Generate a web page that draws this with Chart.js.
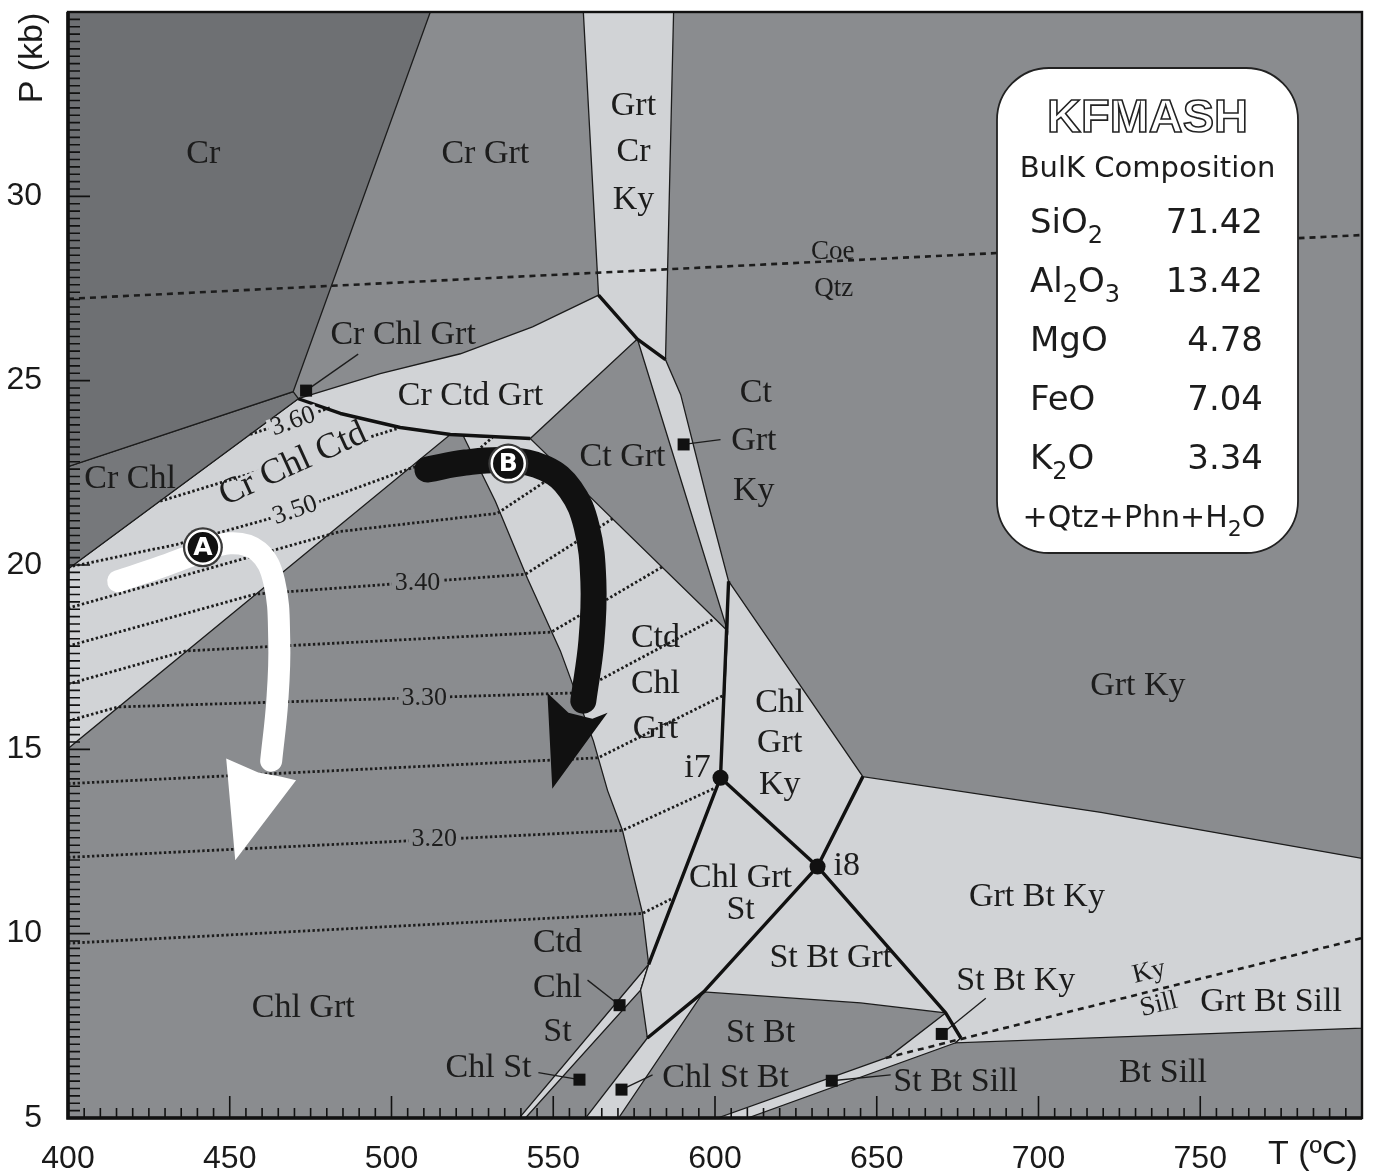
<!DOCTYPE html>
<html>
<head>
<meta charset="utf-8">
<script src="https://cdn.jsdelivr.net/npm/chart.js@4.4.1/dist/chart.umd.min.js"></script>
<style>
  body { margin: 0; background: #fff; }
</style>
</head>
<body>
<canvas id="chart" width="1377" height="1171"></canvas>
<script>
// axis ticks
const tempTicks = [400, 450, 500, 550, 600, 650, 700, 750, 800];
const pressTicks = [5, 10, 15, 20, 25, 30, 35];

// phase fields, [T (°C), P (kb)]
const fieldCr = [[400, 35], [512, 35], [469.6, 24.7], [400, 22.67]];
const fieldCrChl = [[469.6, 24.7], [400, 22.67], [400, 19.89], [471.2, 24.51]];
const fieldGrtCrKy = [[559.3, 35], [587.2, 35], [584.7, 25.57], [576, 26.13], [564, 27.32]];
const fieldCrCtdGrt = [[471.2, 24.51], [496.5, 25.19], [521.3, 25.73], [543.6, 26.46], [564, 27.32], [576, 26.13],
  [542.9, 23.43], [518.2, 23.54], [502.7, 23.73], [484.2, 24.11]];
const fieldCrChlCtd = [[471.2, 24.51], [484.2, 24.11], [502.7, 23.73], [518.2, 23.54], [400, 15.02], [400, 19.89]];
const fieldCtdChlGrt = [[522.2, 23.5], [542.9, 23.43], [603.9, 18.21], [601.7, 14.23], [579.5, 9.17], [577.6, 10.55],
  [571.4, 12.8], [566.8, 13.88], [562.4, 15.23], [552.2, 17.67], [542, 19.64], [532.1, 21.73]];
const fieldCtGrtKy = [[576, 26.13], [584.7, 25.57], [589.4, 24.62], [597.7, 21.73], [604.2, 19.56], [603.9, 18.21]];
const fieldChlGrtKy = [[604.2, 19.56], [645.7, 14.26], [631.7, 11.82], [601.7, 14.23]];
const fieldChlGrtSt = [[601.7, 14.23], [631.7, 11.82], [671.3, 7.85], [645, 8.12], [596.5, 8.42], [579.1, 7.17],
  [577, 8.47], [579.5, 9.17]];
const fieldGrtBtKy = [[631.7, 11.82], [645.7, 14.26], [719.3, 13.29], [800, 12.04], [800, 7.44], [674.4, 7.04],
  [676, 7.17], [671.3, 7.85]];
const fieldStBtSill = [[600.8, 5], [653.7, 6.66], [671.3, 7.85], [676, 7.17], [674.4, 7.04], [610.1, 5]];
const fieldChlStBt = [[579.1, 7.17], [596.5, 8.42], [570.2, 5], [560, 5]];
const fieldCtdChlSt = [[579.5, 9.17], [577, 8.47], [541.4, 5], [539.5, 5]];

// heavy reaction lines
const thickLines = [
  [[564, 27.32], [576, 26.13], [584.7, 25.57]],
  [[471.2, 24.51], [484.2, 24.11], [502.7, 23.73], [518.2, 23.54], [542.9, 23.43]],
  [[604.2, 19.56], [601.7, 14.23], [579.5, 9.17]],
  [[601.7, 14.23], [631.7, 11.82]],
  [[645.7, 14.26], [631.7, 11.82], [671.3, 7.85], [676, 7.17]],
  [[631.7, 11.82], [596.5, 8.42], [579.1, 7.17]]
];

// Si (p.f.u.) isopleths of phengite
const iso360 = [[456.3, 23.54], [481.1, 24.27]];
const iso355 = [[428.5, 21.73], [501.8, 23.7]];
const iso350 = [[400, 19.94], [433.7, 20.56], [461.6, 21.24], [478, 21.73], [506.7, 22.65], [524.4, 22.94], [531.2, 23.46]];
const iso345 = [[400, 18.83], [484.2, 20.91], [532.7, 21.4], [552.2, 22.54]];
const iso340 = [[400, 17.8], [457.9, 19.21], [541.4, 19.75], [568.6, 21.27]];
const iso335 = [[400, 16.77], [436.5, 17.67], [549.4, 18.18], [584.1, 19.97]];
const iso330 = [[400, 15.77], [415.5, 16.15], [556.9, 16.53], [599.6, 18.53]];
const iso325 = [[400, 14.07], [563.9, 14.77], [602.3, 16.45]];
const iso320 = [[400, 12.07], [571.4, 12.8], [600.2, 13.96]];
const iso315 = [[400, 9.74], [577.6, 10.55], [586.9, 10.96]];

// univariant dashed lines
const coeQtz = [[400, 27.22], [800, 28.95]];
const kySill = [[652.8, 6.63], [800, 9.88]];

// invariant points and small-field markers
const invariants = [[601.7, 14.23], [631.7, 11.82]];
const smallFields = [[473.6, 24.73], [590.3, 23.27], [570.5, 8.06], [558.1, 6.04], [571.1, 5.77], [636.1, 6.01], [670.1, 7.28]];
const leaderEnds = [[489.7, 25.72], [601.7, 23.4], [560.6, 8.74], [545.4, 6.23], [580.7, 6.17], [654.3, 6.17], [683.7, 8.25]];

// P-T paths
const pathA = [[415.5, 19.56], [428.5, 19.94], [439.3, 20.29], [450.1, 20.59], [458.8, 20.37], [463.7, 19.56],
  [465.3, 17.94], [464.7, 16.32], [462.8, 14.69]];
const headA = [[448.9, 14.75], [458.8, 14.37], [465.6, 14.26], [470.5, 14.16], [451.7, 11.99]];
const pathB = [[511.1, 22.59], [522.8, 22.78], [536.1, 22.84], [547.6, 22.62], [555.3, 22.05], [560.3, 21.05],
  [562.4, 19.56], [561.8, 17.94], [559.3, 16.32]];
const headB = [[548.2, 16.53], [554.7, 15.99], [562.1, 15.83], [566.8, 15.99], [549.7, 13.93]];
const pathLabels = [['A', 441.7, 20.48], ['B', 536.1, 22.75]];

// bulk composition (wt%)
const oxides = ['SiO2', 'Al2O3', 'MgO', 'FeO', 'K2O'];
const wtPercent = [71.42, 13.42, 4.78, 7.04, 3.34];

// field names [text, T, P]
const fieldNames = [
  ['Cr', 441.8, 31.14], ['Cr Grt', 529, 31.14],
  ['Grt', 574.8, 32.46], ['Cr', 574.8, 31.19], ['Ky', 574.8, 29.89],
  ['Cr Chl Grt', 503.6, 26.24], ['Cr Ctd Grt', 524.4, 24.57],
  ['Ct', 612.6, 24.65], ['Grt', 612, 23.35], ['Ky', 612, 22],
  ['Ct Grt', 571.4, 22.92], ['Cr Chl', 419.2, 22.32],
  ['Ctd', 581.6, 18.03], ['Chl', 581.6, 16.78], ['Grt', 581.6, 15.56],
  ['Chl', 620, 16.26], ['Grt', 620, 15.18], ['Ky', 620, 14.02],
  ['Grt Ky', 730.7, 16.72],
  ['Chl Grt', 607.9, 11.5], ['St', 607.9, 10.64],
  ['St Bt Grt', 635.8, 9.34], ['Grt Bt Ky', 699.5, 10.99],
  ['Ctd', 551.3, 9.74], ['Chl', 551.3, 8.52], ['St', 551.3, 7.33],
  ['Chl Grt', 472.7, 7.98], ['St Bt', 614.1, 7.31], ['St Bt Ky', 693, 8.71],
  ['Grt Bt Sill', 771.9, 8.15], ['Chl St', 530, 6.36], ['Chl St Bt', 603.3, 6.09],
  ['St Bt Sill', 674.4, 5.98], ['Bt Sill', 738.5, 6.23],
  ['i7', 594.6, 14.48], ['i8', 640.7, 11.83]
];
// [text, T, P, rotation]
const isoNames = [['3.60', 469.6, 23.89, -19], ['3.50', 470.2, 21.48, -19], ['3.40', 508, 19.5, 0],
  ['3.30', 510.1, 16.4, 0], ['3.20', 513.2, 12.55, 0]];
const smallNames = [['Coe', 636.4, 28.49, 0], ['Qtz', 636.7, 27.49, 0], ['Ky', 734.2, 8.96, -14], ['Sill', 737.2, 8.07, -14]];

const DARK = '#6e7073', DARK2 = '#76787b', MID = '#8a8c8f', LIGHT = '#d1d3d6', INK = '#1c1c1c';

const xy = a => a.map(([x, y]) => ({x, y}));
const closed = a => xy([...a, a[0]]);

const datasets = [];

[[fieldCr, DARK], [fieldCrChl, DARK2], [fieldGrtCrKy, LIGHT], [fieldCrCtdGrt, LIGHT], [fieldCrChlCtd, LIGHT],
 [fieldCtdChlGrt, LIGHT], [fieldCtGrtKy, LIGHT], [fieldChlGrtKy, LIGHT], [fieldChlGrtSt, LIGHT],
 [fieldGrtBtKy, LIGHT], [fieldStBtSill, LIGHT], [fieldChlStBt, LIGHT], [fieldCtdChlSt, LIGHT]
].forEach(([f, c]) => datasets.push({
  data: closed(f), fill: 'shape', backgroundColor: c, borderColor: INK, borderWidth: 1.3,
  pointRadius: 0, tension: 0, order: 10
}));

[iso360, iso355, iso350, iso345, iso340, iso335, iso330, iso325, iso320, iso315].forEach(l => datasets.push({
  data: xy(l), borderColor: INK, borderWidth: 2.8, borderDash: [2.4, 2.4], pointRadius: 0, fill: false, order: 6
}));

[coeQtz, kySill].forEach(l => datasets.push({
  data: xy(l), borderColor: INK, borderWidth: 2.6, borderDash: [6, 5], pointRadius: 0, fill: false, order: 6
}));

smallFields.forEach((p, i) => datasets.push({
  data: xy([p, leaderEnds[i]]), borderColor: INK, borderWidth: 1.3, pointRadius: 0, fill: false, order: 5
}));

thickLines.forEach(l => datasets.push({
  data: xy(l), borderColor: '#111', borderWidth: 3.4, pointRadius: 0, fill: false, order: 4,
  borderJoinStyle: 'round'
}));

// P-T paths
datasets.push({data: xy(pathA), borderColor: '#fff', borderWidth: 22, tension: 0.4, borderCapStyle: 'round',
  pointRadius: 0, fill: false, order: 3});
datasets.push({data: closed(headA), fill: 'shape', backgroundColor: '#fff', borderWidth: 0, pointRadius: 0, order: 3});
datasets.push({data: xy(pathB), borderColor: '#111', borderWidth: 26, tension: 0.4, borderCapStyle: 'round',
  pointRadius: 0, fill: false, order: 3});
datasets.push({data: closed(headB), fill: 'shape', backgroundColor: '#111', borderWidth: 0, pointRadius: 0, order: 3});

datasets.push({data: xy(smallFields), showLine: false, pointStyle: 'rect', pointRadius: 8.5,
  pointBackgroundColor: '#111', pointBorderWidth: 0, order: 2});
datasets.push({data: xy(invariants), showLine: false, pointStyle: 'circle', pointRadius: 8,
  pointBackgroundColor: '#111', pointBorderWidth: 0, order: 2});
datasets.push({data: xy(pathLabels.map(p => [p[1], p[2]])), showLine: false, pointRadius: 20,
  pointBackgroundColor: '#3a3a3a', pointBorderWidth: 0, order: 1});
datasets.push({data: xy(pathLabels.map(p => [p[1], p[2]])), showLine: false, pointRadius: 16.5,
  pointBackgroundColor: '#111', pointBorderColor: '#fff', pointBorderWidth: 2.5, order: 0});

const areaFill = {
  id: 'areaFill',
  beforeDatasetsDraw(chart) {
    const {ctx, chartArea: a} = chart;
    ctx.save();
    ctx.fillStyle = MID;
    ctx.fillRect(a.left, a.top, a.right - a.left, a.bottom - a.top);
    ctx.restore();
  }
};

function chem(ctx, s, x, y, size, align) {
  const parts = s.match(/[0-9]+|[^0-9]+/g);
  const big = size + 'px "DejaVu Sans"', small = Math.round(size * 0.72) + 'px "DejaVu Sans"';
  let w = 0;
  parts.forEach(p => { ctx.font = /\d/.test(p) ? small : big; w += ctx.measureText(p).width; });
  let cx = align === 'center' ? x - w / 2 : x;
  ctx.textAlign = 'left';
  parts.forEach(p => {
    const sub = /\d/.test(p);
    ctx.font = sub ? small : big;
    ctx.fillText(p, cx, y + (sub ? size * 0.3 : 0));
    cx += ctx.measureText(p).width;
  });
}

const overlay = {
  id: 'overlay',
  afterDatasetsDraw(chart) {
    const {ctx, chartArea: a, scales: {x, y}} = chart;
    ctx.save();

    const label = (text, t, p, font, rot, bg) => {
      ctx.save();
      ctx.translate(x.getPixelForValue(t), y.getPixelForValue(p));
      ctx.rotate((rot || 0) * Math.PI / 180);
      ctx.font = font;
      ctx.textAlign = 'center';
      ctx.textBaseline = 'middle';
      if (bg) {
        const w = ctx.measureText(text).width;
        ctx.fillStyle = bg;
        ctx.fillRect(-w / 2 - 3, -10, w + 6, 20);
      }
      ctx.fillStyle = INK;
      ctx.fillText(text, 0, 0);
      ctx.restore();
    };

    fieldNames.forEach(([s, t, p]) => label(s, t, p, '34px "Liberation Serif"'));
    label('Cr Chl Ctd', 469.6, 22.73, '36px "Liberation Serif"', -24.5, LIGHT);
    isoNames.forEach(([s, t, p, r]) => label(s, t, p, '26px "Liberation Serif"', r, r ? LIGHT : MID));
    smallNames.forEach(([s, t, p, r]) => label(s, t, p, '27px "Liberation Serif"', r));

    // path letters
    pathLabels.forEach(([s, t, p]) => {
      ctx.font = 'bold 25px "DejaVu Sans"';
      ctx.textAlign = 'center';
      ctx.textBaseline = 'middle';
      ctx.fillStyle = '#fff';
      ctx.fillText(s, x.getPixelForValue(t), y.getPixelForValue(p) + 1);
    });

    // inward ticks
    ctx.strokeStyle = '#111';
    ctx.lineWidth = 1.6;
    ctx.beginPath();
    for (let i = 1; i < 80; i++) {
      const px = x.getPixelForValue(400 + i * 5);
      const len = i % 10 === 0 ? 22 : 10;
      ctx.moveTo(px, a.bottom); ctx.lineTo(px, a.bottom - len);
    }
    for (let i = 1; i < 150; i++) {
      const py = y.getPixelForValue(5 + i * 0.2);
      const len = i % 25 === 0 ? 22 : 12;
      ctx.moveTo(a.left, py); ctx.lineTo(a.left + len, py);
    }
    ctx.stroke();

    // frame
    ctx.lineWidth = 2.4;
    ctx.strokeRect(a.left, a.top, a.right - a.left, a.bottom - a.top);
    ctx.lineWidth = 3.6;
    ctx.beginPath();
    ctx.moveTo(a.left, a.top); ctx.lineTo(a.left, a.bottom); ctx.lineTo(a.right, a.bottom);
    ctx.stroke();

    // composition box
    const bx = 997, by = 68, bw = 301, bh = 485, r = 52;
    ctx.beginPath();
    ctx.roundRect(bx, by, bw, bh, r);
    ctx.fillStyle = '#fff';
    ctx.fill();
    ctx.lineWidth = 1.8;
    ctx.strokeStyle = '#222';
    ctx.stroke();

    ctx.textAlign = 'center';
    ctx.textBaseline = 'alphabetic';
    ctx.font = 'bold 47px "Liberation Sans"';
    ctx.lineWidth = 1.6;
    ctx.strokeText('KFMASH', 1147.5, 132);
    ctx.fillStyle = '#1c1c1c';
    ctx.font = '29px "DejaVu Sans"';
    ctx.fillText('BulK Composition', 1147.5, 177);

    oxides.forEach((o, i) => {
      const base = 233 + i * 59;
      ctx.fillStyle = '#1c1c1c';
      chem(ctx, o, 1030, base, 34, 'left');
      ctx.font = '34px "DejaVu Sans"';
      ctx.textAlign = 'right';
      ctx.fillText(wtPercent[i].toFixed(2), 1263, base);
    });
    chem(ctx, '+Qtz+Phn+H2O', 1144, 527, 30, 'center');

    // axis titles
    ctx.font = '34px "Liberation Sans"';
    ctx.fillStyle = '#1a1a1a';
    ctx.textAlign = 'center';
    ctx.textBaseline = 'middle';
    ctx.fillText('T (ºC)', 1313, 1155);
    ctx.save();
    ctx.translate(33, 58);
    ctx.rotate(-Math.PI / 2);
    ctx.fillText('P (kb)', 0, 0);
    ctx.restore();

    ctx.restore();
  }
};

const noPad = s => { s.paddingTop = 0; s.paddingBottom = 0; s.paddingLeft = 0; s.paddingRight = 0; };

new Chart(document.getElementById('chart'), {
  type: 'line',
  data: {datasets},
  options: {
    responsive: false,
    animation: false,
    events: [],
    layout: {autoPadding: false, padding: {top: 12, right: 15, left: 0, bottom: 0}},
    plugins: {legend: {display: false}, tooltip: {enabled: false}},
    scales: {
      x: {
        type: 'linear', min: 400, max: 800,
        afterBuildTicks: s => { s.ticks = tempTicks.map(v => ({value: v})); },
        afterFit: s => { s.height = 53; noPad(s); },
        grid: {display: false},
        border: {display: false},
        ticks: {
          font: {family: 'Liberation Sans', size: 32}, color: '#1a1a1a', padding: 14,
          maxRotation: 0, autoSkip: false,
          callback: v => v === 800 ? '' : v
        }
      },
      y: {
        type: 'linear', min: 5, max: 35,
        afterBuildTicks: s => { s.ticks = pressTicks.map(v => ({value: v})); },
        afterFit: s => { s.width = 68; noPad(s); },
        grid: {display: false},
        border: {display: false},
        ticks: {
          font: {family: 'Liberation Sans', size: 32}, color: '#1a1a1a', padding: 18,
          autoSkip: false,
          callback: v => v === 35 ? '' : v
        }
      }
    }
  },
  plugins: [areaFill, overlay]
});
</script>
</body>
</html>
